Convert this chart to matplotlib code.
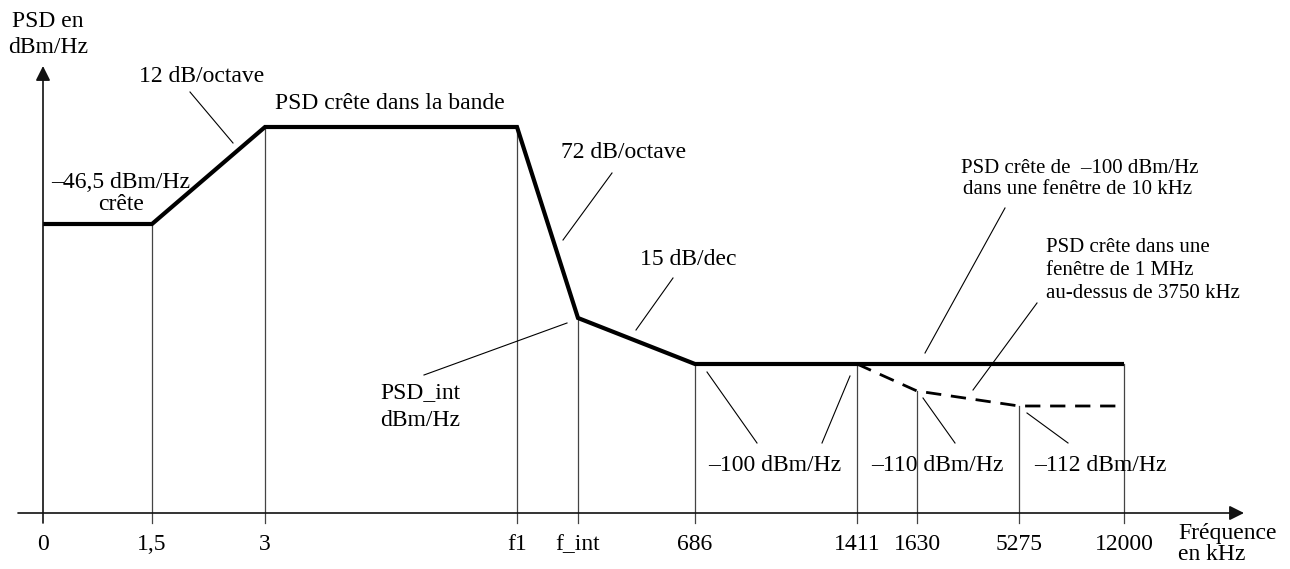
import matplotlib
matplotlib.use("Agg")
import matplotlib.pyplot as plt

# Schéma PSD (axe des fréquences non linéaire : positions schématiques)
freq_labels = ['0', '1,5', '3', 'f1', 'f_int', '686', '1411', '1630', '5275', '12000']
freq_pos = [43, 152, 265, 517, 578, 695, 857, 917, 1019, 1124]

# gabarit principal (trait plein) : indices des points dans freq_pos + point final
mask_idx = [0, 1, 2, 3, 4, 5, 9]
mask_level = [224, 224, 127, 127, 318, 364, 364]

# gabarit en pointillés
dash_idx = [6, 7, 8, 9]
dash_level = [364, 391, 406, 406]

# haut des traits verticaux pour chaque repère
vline_top = [None, 224, 127, 127, 318, 364, 364, 391, 406, 364]

axis_y = 513
plt.rcParams['font.family'] = ['Liberation Serif', 'DejaVu Serif']
fs = 17
fs2 = 15

fig = plt.figure(figsize=(12.9, 5.69), dpi=100)
ax = fig.add_axes([0, 0, 1, 1])
ax.set_xlim(0, 1290)
ax.set_ylim(569, 0)
ax.axis('off')

# axes avec flèches
ax.annotate('', xy=(1244, axis_y), xytext=(18, axis_y),
            arrowprops=dict(arrowstyle='-|>', lw=1.2, color='#111', mutation_scale=22, shrinkA=0, shrinkB=0))
ax.annotate('', xy=(43, 66), xytext=(43, 523),
            arrowprops=dict(arrowstyle='-|>', lw=1.2, color='#111', mutation_scale=22, shrinkA=0, shrinkB=0))

# traits verticaux + étiquettes
for lab, x, top in zip(freq_labels, freq_pos, vline_top):
    if top is not None:
        ax.plot([x, x], [top, 523], color='#444', lw=0.9)
    ax.text(x, 550, lab, ha='center', va='baseline', fontsize=fs)

# courbes
ax.plot([freq_pos[i] for i in mask_idx], mask_level, color='black', lw=3.0,
        solid_joinstyle='miter', solid_capstyle='butt')
ax.plot([freq_pos[i] for i in dash_idx], dash_level, color='black', lw=2.0,
        dashes=(5.5, 3.5))

# textes
ax.text(48, 21, 'PSD en', ha='center', va='center', fontsize=fs)
ax.text(48, 47, 'dBm/Hz', ha='center', va='center', fontsize=fs)
ax.text(202, 76, '12 dB/octave', ha='center', va='center', fontsize=fs)
ax.text(121, 182, '\u201346,5 dBm/Hz', ha='center', va='center', fontsize=fs)
ax.text(121, 204, 'crête', ha='center', va='center', fontsize=fs)
ax.text(390, 103, 'PSD crête dans la bande', ha='center', va='center', fontsize=fs)
ax.text(624, 152, '72 dB/octave', ha='center', va='center', fontsize=fs)
ax.text(688, 259, '15 dB/dec', ha='center', va='center', fontsize=fs)
ax.text(420, 393, 'PSD_int', ha='center', va='center', fontsize=fs)
ax.text(420, 420, 'dBm/Hz', ha='center', va='center', fontsize=fs)
ax.text(775, 465, '\u2013100 dBm/Hz', ha='center', va='center', fontsize=fs)
ax.text(937, 465, '\u2013110 dBm/Hz', ha='center', va='center', fontsize=fs)
ax.text(1100, 465, '\u2013112 dBm/Hz', ha='center', va='center', fontsize=fs)
ax.text(1080, 168, 'PSD crête de  \u2013100 dBm/Hz', ha='center', va='center', fontsize=fs2)
ax.text(1078, 189, 'dans une fenêtre de 10 kHz', ha='center', va='center', fontsize=fs2)
ax.text(1046, 247, 'PSD crête dans une', ha='left', va='center', fontsize=fs2)
ax.text(1046, 270, 'fenêtre de 1 MHz', ha='left', va='center', fontsize=fs2)
ax.text(1046, 293, 'au-dessus de 3750 kHz', ha='left', va='center', fontsize=fs2)
ax.text(1178, 539, 'Fréquence', ha='left', va='baseline', fontsize=fs)
ax.text(1178, 560, 'en kHz', ha='left', va='baseline', fontsize=fs)

# lignes de rappel
leaders = [((190, 92), (233, 143)), ((612, 173), (563, 240)), ((673, 278), (636, 330)),
           ((567, 323), (424, 375)), ((707, 372), (757, 443)), ((850, 376), (822, 443)),
           ((923, 398), (955, 443)), ((1027, 413), (1068, 443)),
           ((1005, 208), (925, 353)), ((1037, 303), (973, 390))]
for (x0, y0), (x1, y1) in leaders:
    ax.plot([x0, x1], [y0, y1], color='black', lw=0.8)

fig.savefig('out.png', dpi=100)
